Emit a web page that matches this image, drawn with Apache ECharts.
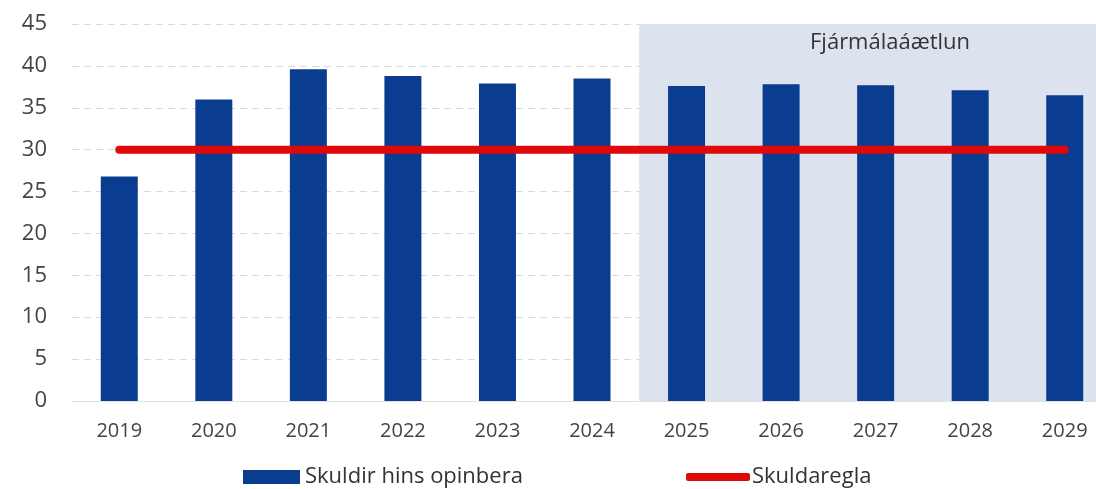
<!DOCTYPE html>
<html>
<head>
<meta charset="utf-8">
<script src="https://cdn.jsdelivr.net/npm/echarts@6/dist/echarts.min.js"></script>
<style>
html, body { margin: 0; padding: 0; background: #fff; }
#chart { width: 1096px; height: 489px; }
</style>
</head>
<body>
<div id="chart"></div>
<script>
// gögn
var years = ['2019', '2020', '2021', '2022', '2023', '2024', '2025', '2026', '2027', '2028', '2029'];
var skuldir = [26.8, 36.0, 39.6, 38.8, 37.9, 38.5, 37.6, 37.8, 37.7, 37.1, 36.5];
var skuldaregla = [30, 30, 30, 30, 30, 30, 30, 30, 30, 30, 30];
var planStart = 6; // 2025 og áfram = fjármálaáætlun

var shadeColors = [];
for (var i = 0; i < years.length; i++) {
	shadeColors.push(i < planStart ? 'rgba(0,0,0,0)' : '#dce3ee');
}

var myChart = echarts.init(document.getElementById('chart'));
var option = {
	animation: false,
	textStyle: { fontFamily: 'Open Sans' },
	grid: { left: 72, top: 24, width: 1040, height: 377, outerBoundsMode: 'none' },
	legend: [{
		left: 238,
		top: 461,
		itemWidth: 57,
		itemHeight: 14,
		textStyle: { fontSize: 22, color: '#333' },
		data: [{ name: 'Skuldir hins opinbera', icon: 'rect' }]
	}, {
		left: 681,
		top: 461,
		itemWidth: 64,
		itemHeight: 8,
		textStyle: { fontSize: 22, color: '#333', padding: [0, 0, 0, -3] },
		data: [{ name: 'Skuldaregla', icon: 'roundRect' }]
	}],
	graphic: [{
		type: 'text',
		left: 810,
		top: 32,
		z: 100,
		style: { text: 'Fjármálaáætlun', fontSize: 22, fill: '#333', fontFamily: 'Open Sans' }
	}],
	xAxis: {
		type: 'category',
		data: years,
		axisTick: { show: false },
		axisLine: { lineStyle: { color: '#e2e2e2', width: 1 } },
		axisLabel: { fontSize: 20, color: '#444', margin: 20 },
		splitArea: { show: true, interval: 0, areaStyle: { color: shadeColors } }
	},
	yAxis: {
		type: 'value',
		min: 0,
		max: 45,
		interval: 5,
		axisLabel: { fontSize: 22, color: '#444', margin: 25 },
		splitLine: { lineStyle: { color: '#dadada', type: [7, 5], width: 1 } }
	},
	series: [{
		name: 'Skuldir hins opinbera',
		type: 'bar',
		data: skuldir,
		barWidth: 37,
		itemStyle: { color: '#0a3d8f' }
	}, {
		name: 'Skuldaregla',
		type: 'line',
		data: skuldaregla,
		symbol: 'none',
		z: 5,
		lineStyle: { color: '#de0a0a', width: 8, cap: 'round' },
		itemStyle: { color: '#de0a0a' }
	}]
};
myChart.setOption(option);
</script>
</body>
</html>
